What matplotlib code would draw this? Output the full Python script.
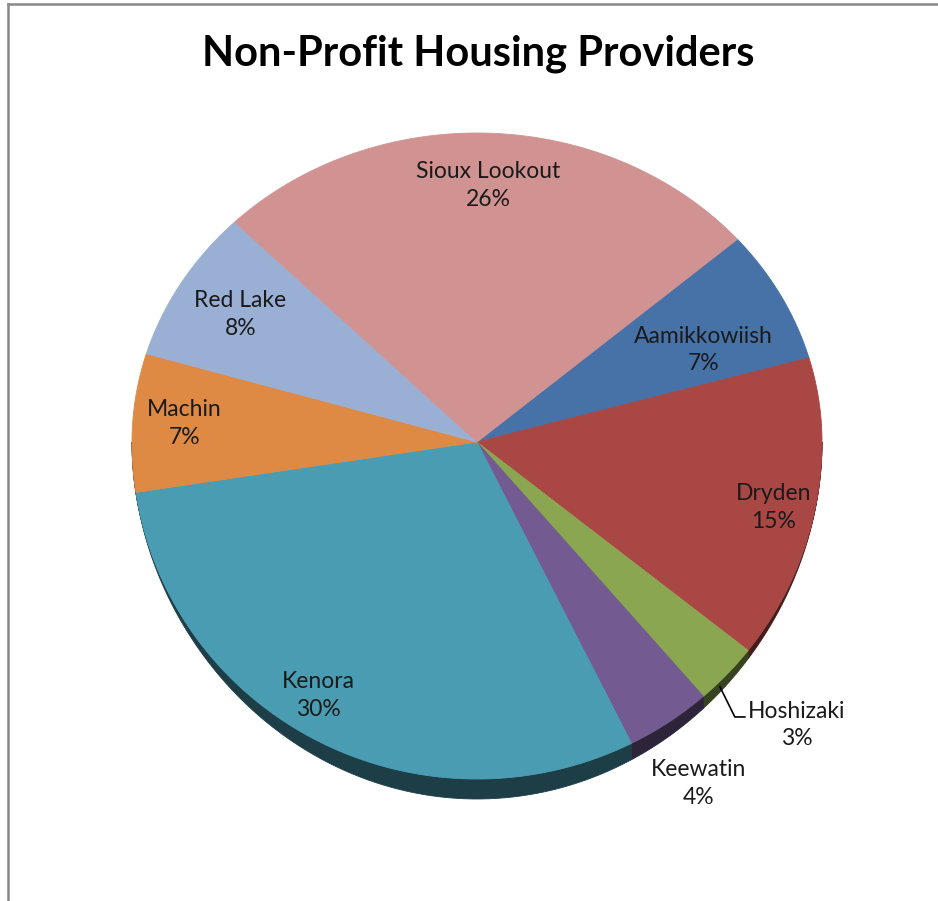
import numpy as np
import matplotlib.pyplot as plt
from matplotlib.patches import Polygon

plt.rcParams['font.family'] = ['Lato', 'DejaVu Sans']

providers = ["Aamikkowiish", "Dryden", "Hoshizaki", "Keewatin",
             "Kenora", "Machin", "Red Lake", "Sioux Lookout"]
shares = [7, 15, 3, 4, 30, 7, 8, 26]
top_colors = ["#4672A8", "#A94744", "#8AA650", "#735A90",
              "#4A9CB2", "#DE8A45", "#9AAFD4", "#D19392"]

# tilted pie geometry (pixel units, y grows downwards)
cx, cy = 477, 442
rx = 345
ry_back, ry_front = 309, 337
depth = 20
start = 41.0
# label placement: radius factor and angular nudge (deg) per slice
label_r = [0.72, 0.88, 1.25, 1.2, 0.88, 0.85, 0.80, 0.83]
label_nudge = [-4, -1.5, 1.4, -1.4, -4, 0, 0, 0]


def rim(theta):
    t = np.radians(np.asarray(theta, dtype=float))
    ry = np.where(np.sin(t) > 0, ry_back, ry_front)
    return cx + rx * np.cos(t), cy - ry * np.sin(t)


def wall_drop(theta):
    # wall looks thickest at the front, fades out towards the sides
    s = -np.sin(np.radians(np.asarray(theta, dtype=float)))
    return depth * np.clip(s, 0, 1) ** 1.8


def darker(c, f=0.4):
    c = c.lstrip('#')
    rgb = [int(c[i:i + 2], 16) / 255 for i in (0, 2, 4)]
    return tuple(v * f for v in rgb)


fig = plt.figure(figsize=(9.38, 9.01), dpi=100)
ax = fig.add_axes([0, 0, 1, 1])
ax.set_xlim(0, 938)
ax.set_ylim(901, 0)
ax.axis('off')

# clockwise wedge angles
fracs = np.array(shares, dtype=float) / sum(shares)
ends = start - 360 * np.cumsum(fracs)
starts = np.concatenate([[start], ends[:-1]])

# outer wall on the front half
for a0, a1, col in zip(starts, ends, top_colors):
    for k in range(-2, 2):
        lo = max(a1, k * 360 - 180)
        hi = min(a0, k * 360)
        if hi <= lo:
            continue
        th = np.linspace(lo, hi, 80)
        xt, yt = rim(th)
        yb = yt + wall_drop(th)
        pts = np.column_stack([np.concatenate([xt, xt[::-1]]),
                               np.concatenate([yt, yb[::-1]])])
        ax.add_patch(Polygon(pts, closed=True, facecolor=darker(col),
                             edgecolor=darker(col), lw=0.6, zorder=1))

# top faces
for a0, a1, col in zip(starts, ends, top_colors):
    th = np.linspace(a0, a1, 200)
    xs, ys = rim(th)
    pts = np.column_stack([np.concatenate([[cx], xs]),
                           np.concatenate([[cy], ys])])
    ax.add_patch(Polygon(pts, closed=True, facecolor=col,
                         edgecolor=col, lw=0.6, zorder=2))

# labels
for name, val, a0, a1, r, nd in zip(providers, shares, starts, ends,
                                    label_r, label_nudge):
    mid_deg = (a0 + a1) / 2
    mid = np.radians(mid_deg + nd)
    ry = ry_back if np.sin(mid) > 0 else ry_front
    lx = cx + r * rx * np.cos(mid)
    ly = cy - r * ry * np.sin(mid)
    ax.text(lx, ly, f"{name}\n{val}%", ha='center', va='center',
            fontsize=16.5, color='#1a1a1a', linespacing=1.4, zorder=5)
    if name == "Hoshizaki":
        sx, sy = rim(mid_deg)
        sx = float(sx)
        sy = float(sy + wall_drop(mid_deg))
        ax.plot([sx - 7, sx + 8, sx + 18], [sy + 2, ly - 8, ly - 8],
                color='black', lw=1.2, zorder=4)

ax.text(478, 54, "Non-Profit Housing Providers", ha='center', va='center',
        fontsize=30, fontweight='bold', color='black')

# chart area border
ax.plot([8, 8], [901, 4], color='#888888', lw=1.8, zorder=6)
ax.plot([8, 938], [4, 4], color='#888888', lw=1.8, zorder=6)

fig.savefig('out.png', dpi=100)
